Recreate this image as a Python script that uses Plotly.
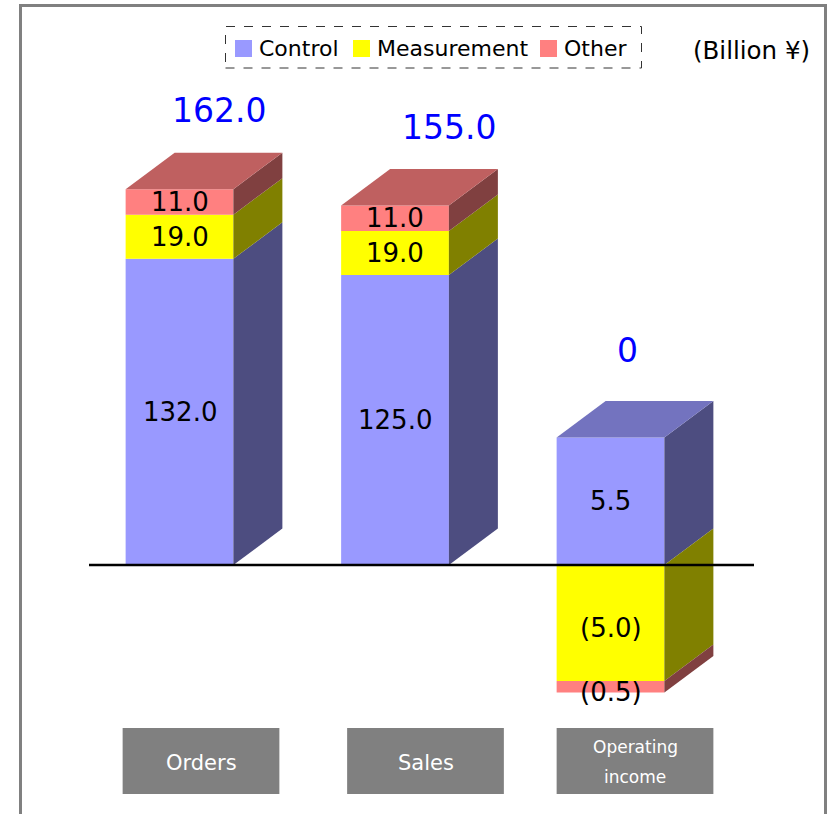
import plotly.graph_objects as go

# ---------------- data ----------------
categories = ["Orders", "Sales", "Operating<br>income"]
series_names = ["Control", "Measurement", "Other"]
control = [132.0, 125.0, 5.5]
measurement = [19.0, 19.0, -5.0]
other = [11.0, 11.0, -0.5]
total_labels = ["162.0", "155.0", "0"]
unit_label = "(Billion ¥)"
# Operating income is drawn on a 10x magnified secondary scale
category_axis = ["y", "y", "y2"]

# ---------------- styles ----------------
front_colors = ["#9999FF", "#FFFF00", "#FF8080"]
side_colors = ["#4D4D80", "#808000", "#804040"]
top_colors = ["#7373BF", "#BFBF00", "#BF6060"]
FONT = "DejaVu Sans"
W, H = 832, 814
PX_PER_X = 215.5
X0_PX = 179.5
PX_PER_Y = 2.32
Y0_PX = 565.0
Y2_FACTOR = 10.0
BAR_W = 0.5
DEPTH_X = 49 / PX_PER_X
DEPTH_Y_PX = 36.5
total_xshift = [39.5, 53.5, 16.5]
total_yshift = [79, 78, 87]
box_xshift_px = [-3, 6, 0]

series_values = [control, measurement, other]
x_pos = list(range(len(categories)))


def px_x(px):
    return px / W


def px_y(py):
    return 1 - py / H


y_range = [-(H - Y0_PX) / PX_PER_Y, Y0_PX / PX_PER_Y]
y2_range = [v / Y2_FACTOR for v in y_range]
x_range = [-X0_PX / PX_PER_X, (W - X0_PX) / PX_PER_X]

fig = go.Figure()
shapes = []
annotations = []

pos_stack = [0.0] * len(categories)
neg_stack = [0.0] * len(categories)
top_series = [None] * len(categories)
segments = []  # (cat, series, bottom, top, value)

for s, (name, vals) in enumerate(zip(series_names, series_values)):
    for ax in ["y", "y2"]:
        xs, ys, bases = [], [], []
        for c in x_pos:
            if category_axis[c] != ax:
                continue
            v = vals[c]
            if v >= 0:
                b = pos_stack[c]
                pos_stack[c] += v
                top_series[c] = s
                segments.append((c, s, b, b + v, v))
            else:
                b = neg_stack[c]
                neg_stack[c] += v
                segments.append((c, s, b + v, b, v))
            xs.append(c)
            ys.append(v)
            bases.append(b)
        if xs:
            fig.add_trace(go.Bar(
                x=xs, y=ys, base=bases, width=BAR_W, name=name,
                marker=dict(color=front_colors[s], line=dict(width=0)),
                yaxis=ax, showlegend=False,
            ))

# 3D side faces and segment labels
for c, s, bot, top, v in segments:
    ax = category_axis[c]
    dy = DEPTH_Y_PX / PX_PER_Y / (Y2_FACTOR if ax == "y2" else 1)
    xr = c + BAR_W / 2
    path = (f"M {xr},{bot} L {xr + DEPTH_X},{bot + dy} "
            f"L {xr + DEPTH_X},{top + dy} L {xr},{top} Z")
    shapes.append(dict(type="path", path=path, xref="x", yref=ax,
                       fillcolor=side_colors[s], line=dict(width=0),
                       layer="above"))
    txt = f"{v:.1f}" if v >= 0 else f"({abs(v):.1f})"
    annotations.append(dict(x=c, y=(bot + top) / 2, xref="x", yref=ax,
                            text=txt, showarrow=False,
                            xanchor="center", yanchor="middle",
                            yshift=0 if v >= 0 else -5,
                            font=dict(family=FONT, size=26, color="black")))

# top faces and totals
for c in x_pos:
    ax = category_axis[c]
    dy = DEPTH_Y_PX / PX_PER_Y / (Y2_FACTOR if ax == "y2" else 1)
    T = pos_stack[c]
    xl, xr = c - BAR_W / 2, c + BAR_W / 2
    path = (f"M {xl},{T} L {xl + DEPTH_X},{T + dy} "
            f"L {xr + DEPTH_X},{T + dy} L {xr},{T} Z")
    shapes.append(dict(type="path", path=path, xref="x", yref=ax,
                       fillcolor=top_colors[top_series[c]], line=dict(width=0),
                       layer="above"))
    annotations.append(dict(x=c, y=T, xref="x", yref=ax, text=total_labels[c],
                            showarrow=False, xshift=total_xshift[c],
                            yshift=total_yshift[c],
                            xanchor="center", yanchor="middle",
                            font=dict(family=FONT, size=33, color="#0000FF")))

# zero line
shapes.append(dict(type="line", xref="paper", yref="y", x0=px_x(89), x1=px_x(754),
                   y0=0, y1=0, line=dict(color="black", width=2.5), layer="above"))

# category boxes
for c in x_pos:
    off = box_xshift_px[c] / PX_PER_X
    x0 = c - BAR_W / 2 + off
    x1 = c + BAR_W / 2 + DEPTH_X + off
    shapes.append(dict(type="rect", xref="x", yref="paper", x0=x0, x1=x1,
                       y0=px_y(794), y1=px_y(728), fillcolor="#808080",
                       line=dict(width=0), layer="above"))
    lines = categories[c].split("<br>")
    if len(lines) == 1:
        annotations.append(dict(x=(x0 + x1) / 2, y=px_y(763), xref="x", yref="paper",
                                text=lines[0], showarrow=False,
                                xanchor="center", yanchor="middle",
                                font=dict(family=FONT, size=21, color="white")))
    else:
        for i, ln in enumerate(lines):
            annotations.append(dict(x=(x0 + x1) / 2, y=px_y(747 + 30 * i), xref="x",
                                    yref="paper", text=ln, showarrow=False,
                                    xanchor="center", yanchor="middle",
                                    font=dict(family=FONT, size=17, color="white")))

# legend (dashed box)
shapes.append(dict(type="rect", xref="paper", yref="paper", x0=px_x(225.5), x1=px_x(641.5),
                   y0=px_y(68), y1=px_y(26.5), line=dict(color="#333333", width=1, dash="dash"),
                   fillcolor="rgba(0,0,0,0)"))
legend_swatch_x = [235, 353, 540]
for s, name in enumerate(series_names):
    sx = legend_swatch_x[s]
    shapes.append(dict(type="rect", xref="paper", yref="paper", x0=px_x(sx), x1=px_x(sx + 17),
                       y0=px_y(57), y1=px_y(40), fillcolor=front_colors[s], line=dict(width=0)))
    annotations.append(dict(x=px_x(sx + 22), y=px_y(49), xref="paper", yref="paper",
                            text=name, showarrow=False, xanchor="left", yanchor="middle",
                            font=dict(family=FONT, size=22, color="black")))

# unit label
annotations.append(dict(x=px_x(751), y=px_y(50), xref="paper", yref="paper", text=unit_label,
                        showarrow=False, xanchor="center", yanchor="middle",
                        font=dict(family=FONT, size=24.5, color="black")))

# outer frame
shapes.append(dict(type="rect", xref="paper", yref="paper", x0=px_x(20.5), x1=px_x(825.5),
                   y0=-0.1, y1=px_y(5.5), line=dict(color="#808080", width=3),
                   fillcolor="rgba(0,0,0,0)"))

fig.update_layout(
    width=W, height=H, margin=dict(l=0, r=0, t=0, b=0),
    paper_bgcolor="white", plot_bgcolor="white",
    barmode="overlay", showlegend=False,
    xaxis=dict(range=x_range, visible=False, fixedrange=True),
    yaxis=dict(range=y_range, visible=False, fixedrange=True),
    yaxis2=dict(range=y2_range, visible=False, overlaying="y", fixedrange=True),
    shapes=shapes, annotations=annotations,
)

fig.write_html("out.html")
